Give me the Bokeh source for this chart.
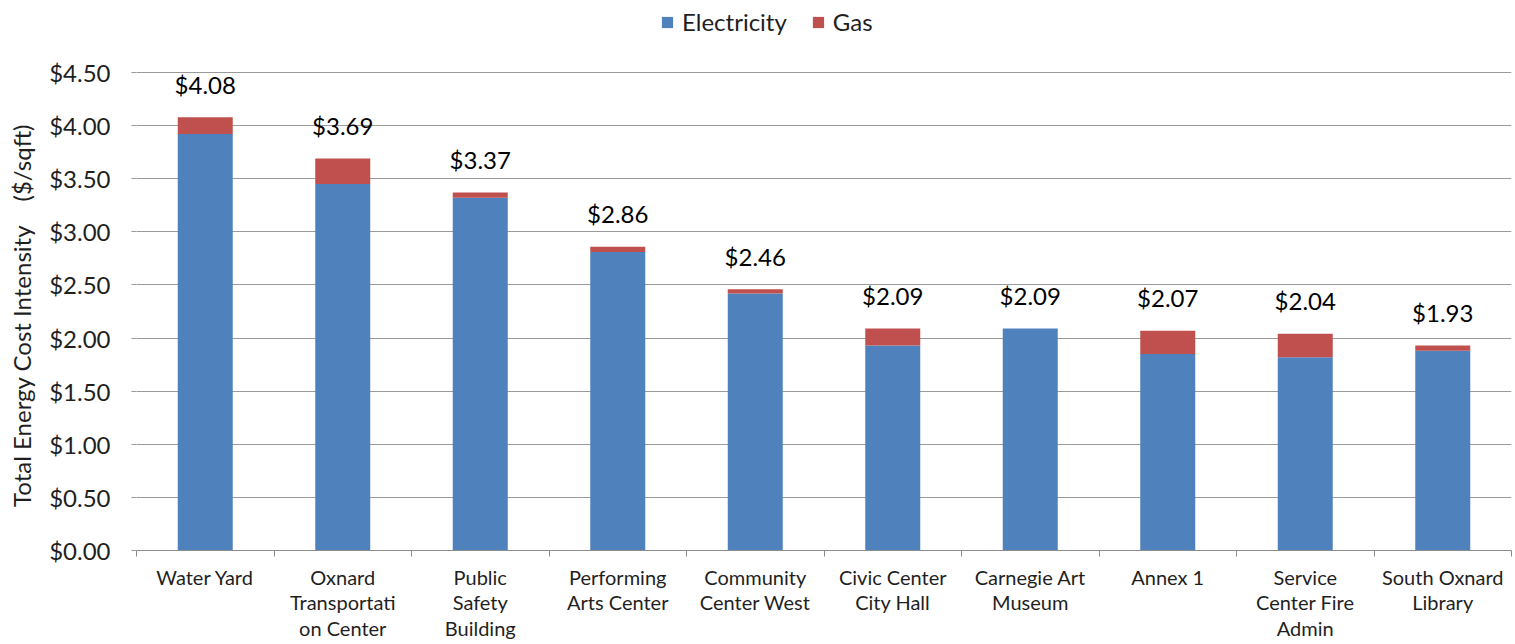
import numpy as np
from bokeh.plotting import figure
from bokeh.models import (ColumnDataSource, Range1d, FixedTicker, NumeralTickFormatter,
                          Legend, LegendItem)
from bokeh.embed import file_html
from bokeh.resources import INLINE
from bokeh.core.properties import value

# ---- data ----
buildings = ["Water Yard", "Oxnard\nTransportati\non Center", "Public\nSafety\nBuilding",
             "Performing\nArts Center", "Community\nCenter West", "Civic Center\nCity Hall",
             "Carnegie Art\nMuseum", "Annex 1", "Service\nCenter Fire\nAdmin",
             "South Oxnard\nLibrary"]
electricity = [3.92, 3.45, 3.32, 2.81, 2.42, 1.93, 2.09, 1.85, 1.82, 1.88]
gas = [0.16, 0.24, 0.05, 0.05, 0.04, 0.16, 0.00, 0.22, 0.22, 0.05]
y_ticks = [0.0, 0.5, 1.0, 1.5, 2.0, 2.5, 3.0, 3.5, 4.0, 4.5]
series_names = ["Electricity", "Gas"]
series_colors = ["#4F81BD", "#C0504D"]
y_title = "Total Energy Cost Intensity\u00a0\u00a0\u00a0\u00a0($/sqft)"

FONT = "Lato"
TXT = "#1f1f1f"
GRID = "#9a9a9a"
NBSP = "\u00a0"

n = len(buildings)
centers = [i + 0.5 for i in range(n)]
totals = [round(e + g, 2) for e, g in zip(electricity, gas)]
labels = ["${:.2f}".format(t) for t in totals]

src = ColumnDataSource(dict(x=centers, elec=electricity, gas=gas, total=totals, label=labels))

# the frame reaches the top of the page (headroom above $4.50 holds the legend)
p = figure(width=1515, height=644, x_range=Range1d(0, n), y_range=Range1d(0, 5.178),
           output_backend="svg", toolbar_location=None,
           min_border_left=136, min_border_right=4, min_border_top=0, min_border_bottom=94)
p.outline_line_color = None
p.background_fill_color = "white"
p.border_fill_color = "white"

rs = p.vbar_stack(["elec", "gas"], x="x", width=0.4, source=src,
                  color=series_colors, line_color=None)

p.text(x="x", y="total", text="label", source=src, text_align="center",
       text_baseline="middle", y_offset=-33, text_font=value(FONT),
       text_font_size="24px", text_color="#000000")

# x axis: category labels at centers, boundary ticks as minor ticks
xa = p.xaxis[0]
xa.ticker = FixedTicker(ticks=centers, minor_ticks=list(range(n + 1)))
xa.major_label_overrides = {float(c): b for c, b in zip(centers, buildings)}
xa.major_tick_line_color = None
xa.major_tick_out = 0
xa.major_tick_in = 0
xa.minor_tick_out = 6
xa.minor_tick_in = 0
xa.minor_tick_line_color = "#8c8c8c"
xa.axis_line_color = "#8c8c8c"
xa.major_label_standoff = 8
xa.major_label_text_font = FONT
xa.major_label_text_font_size = "20px"
xa.major_label_text_line_height = 1.08
xa.major_label_text_color = TXT

ya = p.yaxis[0]
ya.ticker = FixedTicker(ticks=y_ticks)
ya.formatter = NumeralTickFormatter(format="$0.00")
ya.axis_line_color = None
ya.major_tick_out = 5
ya.major_tick_in = 0
ya.major_tick_line_color = GRID
ya.minor_tick_line_color = None
ya.major_label_standoff = 21
ya.major_label_text_font = FONT
ya.major_label_text_font_size = "24px"
ya.major_label_text_color = TXT
# trailing no-break spaces keep the title centred on the $0-$4.50 span
ya.axis_label = y_title + NBSP * 13
ya.axis_label_text_font = FONT
ya.axis_label_text_font_size = "24px"
ya.axis_label_text_font_style = "normal"
ya.axis_label_text_color = TXT
ya.axis_label_standoff = 10

p.xgrid.grid_line_color = None
p.ygrid.ticker = FixedTicker(ticks=y_ticks)
p.ygrid.grid_line_color = GRID
p.ygrid.grid_line_width = 1

legend = Legend(items=[LegendItem(label=series_names[0], renderers=[rs[0]]),
                       LegendItem(label=series_names[1], renderers=[rs[1]])],
                location=(524, 514), orientation="horizontal",
                glyph_width=14, glyph_height=14, label_standoff=8, spacing=24,
                padding=0, margin=0, border_line_color=None, background_fill_alpha=0,
                label_text_font=FONT, label_text_font_size="24px", label_text_color=TXT)
p.add_layout(legend)

open("out.html", "w").write(file_html(p, INLINE))
